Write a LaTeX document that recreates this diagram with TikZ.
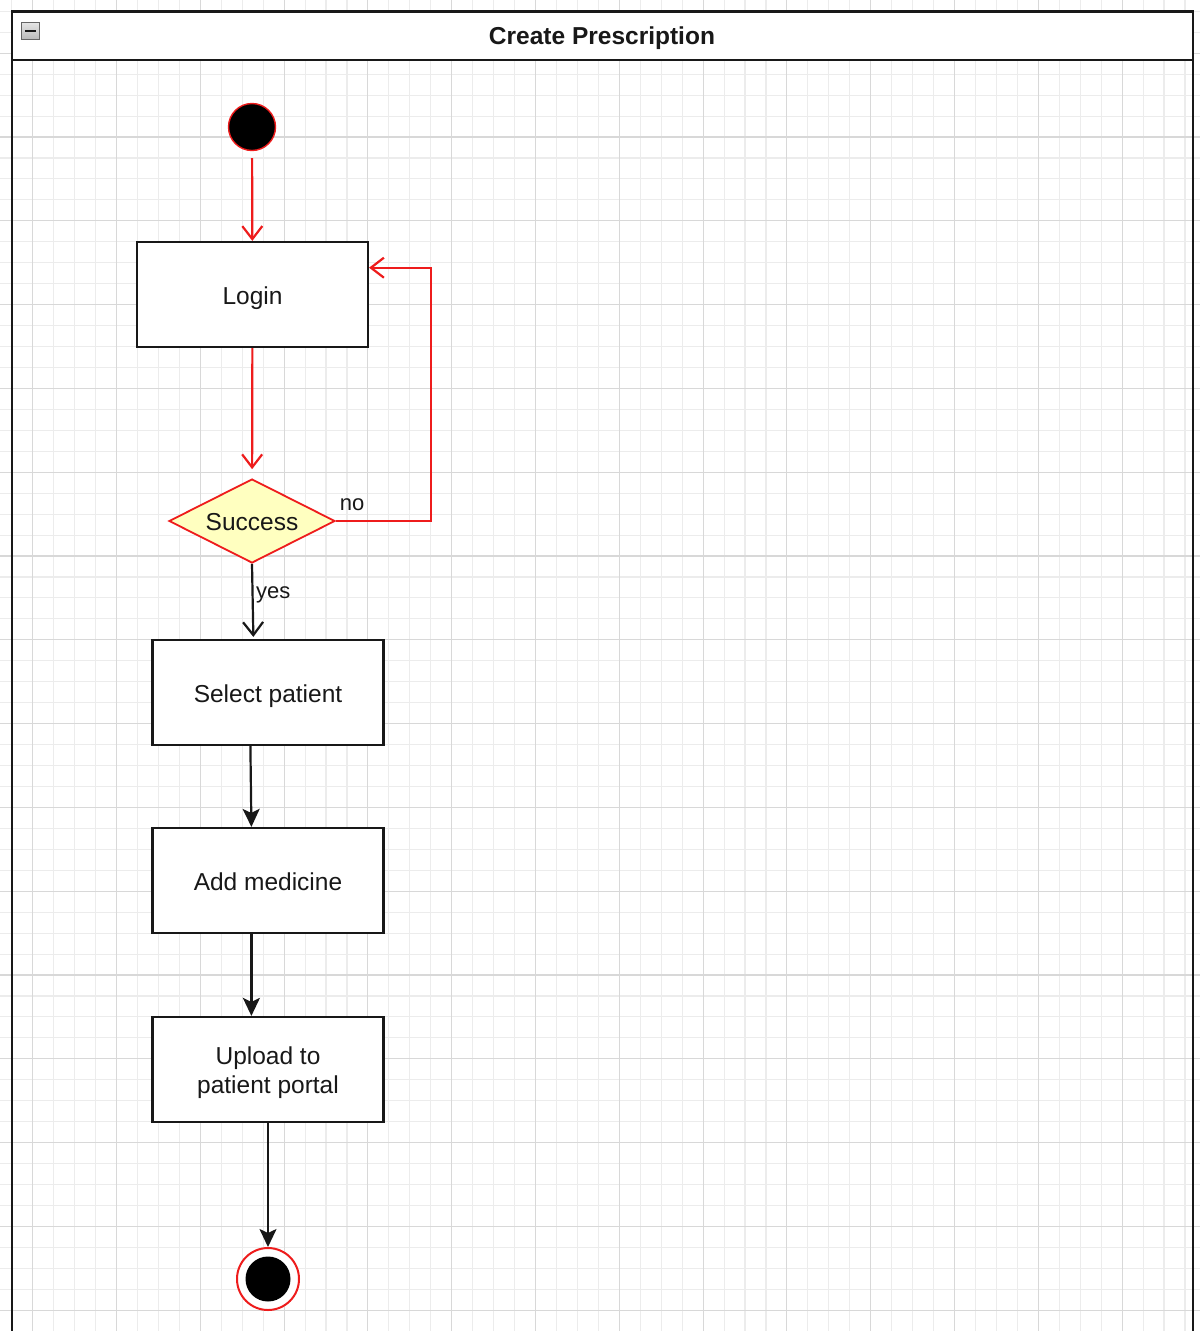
\documentclass[tikz,border=0pt]{standalone}
\usepackage{fontspec}
\setmainfont{Liberation Sans}
\usetikzlibrary{shapes.geometric,arrows.meta,calc}
\definecolor{drawred}{RGB}{238,28,28}
\definecolor{minorg}{RGB}{236,236,236}
\definecolor{majorg}{RGB}{216,216,216}
\definecolor{dfill}{RGB}{255,255,192}
\definecolor{ink}{RGB}{24,24,24}
\begin{document}
\begin{tikzpicture}[x=1pt,y=-1pt,
  minorgrid/.style={draw=minorg,line width=1.1pt},
  majorgrid/.style={draw=majorg,line width=1.1pt},
  actbox/.style={draw=ink,line width=2.2pt,fill=white,minimum width=231pt,minimum height=105pt,inner sep=2pt,align=center,text=ink,font=\fontsize{24.5}{29}\selectfont,text height=24.5pt,text depth=4.9pt},
  decision/.style={diamond,draw=drawred,line width=1.8pt,fill=dfill,minimum width=166pt,minimum height=84pt,inner sep=0pt,aspect=1.98,text=ink,font=\fontsize{24.5}{29}\selectfont,text height=24.5pt,text depth=4.9pt},
  lbl/.style={text=ink,font=\fontsize{22}{26}\selectfont,inner sep=0pt},
  redarrow/.style={draw=drawred,line width=2.2pt,-{Straight Barb[length=13pt,width=20pt,line width=2.2pt]}},
  openarrow/.style={draw=ink,line width=2.2pt,-{Straight Barb[length=13pt,width=20pt,line width=2.2pt]}},
  blockarrow/.style={draw=ink,line width=2.2pt,-{Stealth[length=18pt,width=17pt,inset=4pt]}}
]
\useasboundingbox (0,0) rectangle (1200,1331);
\fill[white] (0,0) rectangle (1200,1331);
% grid
\foreach \i in {-5,...,52}{
  \pgfmathsetmacro\xx{116.5+20.95*\i}
  \draw[minorgrid] (\xx,0) -- (\xx,1331);
}
\foreach \j in {-6,...,57}{
  \pgfmathsetmacro\yy{137+20.95*\j}
  \draw[minorgrid] (0,\yy) -- (1200,\yy);
}
\foreach \i in {-1,...,12}{
  \pgfmathsetmacro\xx{116.5+83.8*\i}
  \draw[majorgrid] (\xx,0) -- (\xx,1331);
}
\foreach \j in {-1,...,14}{
  \pgfmathsetmacro\yy{137+83.8*\j}
  \draw[majorgrid] (0,\yy) -- (1200,\yy);
}
% frame
\fill[white] (12,11.5) rectangle (1193,60);
\draw[ink,line width=2.2pt] (12,1331) -- (12,11.5) -- (1193,11.5) -- (1193,1331);
\draw[ink,line width=2.2pt] (12,60) -- (1193,60);
\node[font=\bfseries\fontsize{24.5}{30}\selectfont,text=ink] (title) at (602,38.5) {Create Prescription};
% collapse icon
\node[draw=gray!80!black,line width=0.9pt,top color=gray!20,bottom color=gray!55,minimum size=17.5pt,inner sep=0pt] (icon) at (30.5,31) {};
\draw[ink,line width=2.4pt] ($(icon.center)+(-5.5,0)$) -- ($(icon.center)+(5.5,0)$);
% nodes
\node[circle,draw=drawred,fill=black,line width=1.4pt,minimum size=47pt,inner sep=0pt] (start) at (252,127) {};
\node[actbox] (login) at (252.5,294.5) {Login};
\node[decision] (success) at (252,521) {Success};
\node[actbox] (select) at (268,692.5) {Select patient};
\node[actbox] (add) at (268,880.5) {Add medicine};
\node[actbox,text height=53.5pt] (upload) at (268,1069.5) {Upload to\\patient portal};
\node[circle,draw=drawred,fill=white,line width=2pt,minimum size=62pt,inner sep=0pt] (endnode) at (268,1279) {};
\node[circle,fill=black,minimum size=45pt,inner sep=0pt] (endinner) at (endnode.center) {};
% connector coordinates
\coordinate (loginin) at ($(login.north east)!0.25!(login.south east)$);
\coordinate (selin) at ($(select.north west)+(102,0)$);
\coordinate (selout) at ($(select.south west)+(99,0)$);
\coordinate (addin) at ($(add.north west)+(100,0)$);
\coordinate (addout) at ($(add.south west)+(100,0)$);
\coordinate (upin) at ($(upload.north west)+(100,0)$);
% connectors
\draw[redarrow,shorten <=7pt] (start) -- (login);
\draw[redarrow,shorten >=9pt] (login) -- (success);
\draw[redarrow] (success.east) -- ++(95,0) |- (loginin);
\node[lbl,anchor=base] (nolbl) at (352,510) {no};
\draw[openarrow,shorten >=2pt] (success.south) -- (selin);
\node[lbl,anchor=base west] (yeslbl) at (256,598) {yes};
\draw[blockarrow] (selout) -- (addin);
\draw[blockarrow] (addout) -- (upin);
\draw[blockarrow] (upload) -- (endnode);
\end{tikzpicture}
\end{document}
